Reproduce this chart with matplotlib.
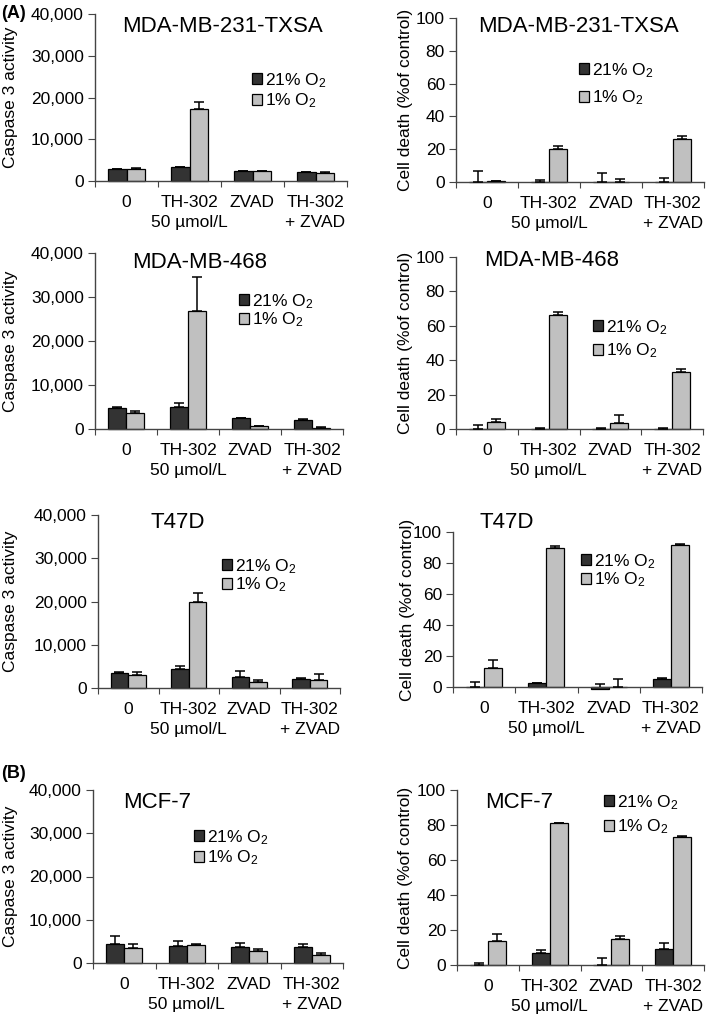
import numpy as np
import matplotlib
matplotlib.use("Agg")
import matplotlib.pyplot as plt
from matplotlib.patches import Patch

plt.rcParams['font.family'] = ['Liberation Sans', 'DejaVu Sans']
plt.rcParams['mathtext.fontset'] = 'custom'
plt.rcParams['mathtext.rm'] = 'Liberation Sans'
plt.rcParams['mathtext.it'] = 'Liberation Sans:italic'

# ---- data ----
categories = ["0", "TH-302\n50 \u00b5mol/L", "ZVAD", "TH-302\n+ ZVAD"]
cell_lines = ["MDA-MB-231-TXSA", "MDA-MB-468", "T47D", "MCF-7"]
series_labels = ["21% O$_\\mathregular{2}$", "1% O$_\\mathregular{2}$"]

casp_ticks = [0, 10000, 20000, 30000, 40000]
death_ticks = [0, 20, 40, 60, 80, 100]

# caspase 3 activity: mean and upper error (21% O2 / 1% O2)
casp_231_norm = [2800, 3300, 2400, 2100]
casp_231_norm_err = [100, 100, 100, 100]
casp_231_hyp = [2900, 17200, 2400, 2000]
casp_231_hyp_err = [100, 1800, 100, 100]

casp_468_norm = [4700, 5100, 2500, 2100]
casp_468_norm_err = [300, 700, 100, 100]
casp_468_hyp = [3700, 26800, 600, 300]
casp_468_hyp_err = [500, 7800, 100, 100]

casp_t47d_norm = [3400, 4300, 2600, 2000]
casp_t47d_norm_err = [200, 800, 1300, 300]
casp_t47d_hyp = [3000, 19800, 1300, 1900]
casp_t47d_hyp_err = [700, 2200, 600, 1300]

casp_mcf7_norm = [4500, 3900, 3700, 3700]
casp_mcf7_norm_err = [1700, 1300, 1000, 700]
casp_mcf7_hyp = [3400, 4200, 2800, 1900]
casp_mcf7_hyp_err = [900, 300, 400, 300]

# cell death (% of control): mean and upper error
death_231_norm = [0, 0, 0, 0]
death_231_norm_err = [7, 1.2, 5.5, 2.5]
death_231_hyp = [0.5, 20, 0, 26]
death_231_hyp_err = [0.4, 1.7, 1.8, 2.2]

death_468_norm = [0, 0, 0, 0]
death_468_norm_err = [2.2, 0.3, 0.6, 0.5]
death_468_hyp = [4, 66, 3.5, 33]
death_468_hyp_err = [2, 1.8, 4.6, 1.6]

death_t47d_norm = [0, 2.5, -1.5, 5]
death_t47d_norm_err = [3.5, 0.4, 3.5, 0.6]
death_t47d_hyp = [12, 89.5, 0, 91.5]
death_t47d_hyp_err = [5.5, 1.3, 5, 0.5]

death_mcf7_norm = [0, 7, 0, 9]
death_mcf7_norm_err = [1, 1.6, 4, 3.4]
death_mcf7_hyp = [14, 81, 15, 73]
death_mcf7_hyp_err = [3.5, 0.3, 1.5, 0.6]

# ---- layout (pixel coords in a 709x1015 image) ----
W, H = 709, 1015
fig = plt.figure(figsize=(W / 100, H / 100), dpi=100)

dark = "#333333"
light = "#c0c0c0"
fs = 12.5


def px_axes(l, t, r, b):
    return fig.add_axes([l / W, 1 - b / H, (r - l) / W, (b - t) / H])


def draw_panel(rect, norm, norm_err, hyp, hyp_err, ymax, ticks, ylabel,
               title, title_xy, label_x, leg_xy, leg_gap, tick_fmt):
    ax = px_axes(*rect)
    x = np.arange(len(categories))
    bw = 0.29
    ax.bar(x - bw / 2, norm, bw, color=dark, edgecolor="black", lw=0.9,
           clip_on=False, zorder=2)
    ax.bar(x + bw / 2, hyp, bw, color=light, edgecolor="black", lw=0.9,
           clip_on=False, zorder=2)
    zeros = np.zeros(len(x))
    ax.errorbar(x - bw / 2, norm, yerr=[zeros, norm_err], fmt="none",
                ecolor="black", elinewidth=1.1, capsize=3.5, capthick=1.1,
                zorder=3)
    ax.errorbar(x + bw / 2, hyp, yerr=[zeros, hyp_err], fmt="none",
                ecolor="black", elinewidth=1.1, capsize=3.5, capthick=1.1,
                zorder=3)
    ax.set_xlim(-0.5, len(x) - 0.5)
    ax.set_ylim(0, ymax)
    for s in ["top", "right"]:
        ax.spines[s].set_visible(False)
    for s in ["left", "bottom"]:
        ax.spines[s].set_color("#444444")
        ax.spines[s].set_linewidth(1.0)
    # boundary ticks (major) and labelled centre ticks (minor)
    ax.set_xticks(np.arange(len(x) + 1) - 0.5)
    ax.set_xticklabels([])
    ax.set_xticks(x, minor=True)
    ax.set_xticklabels(categories, minor=True, fontsize=fs, linespacing=1.45)
    ax.tick_params(axis="x", which="major", length=4, color="#444444")
    ax.tick_params(axis="x", which="minor", length=0, pad=10)
    ax.set_yticks(ticks)
    ax.set_yticklabels([tick_fmt(t) for t in ticks], fontsize=fs)
    ax.tick_params(axis="y", length=5, pad=3, color="#444444")
    ax.set_ylabel(ylabel, fontsize=fs)
    ax.yaxis.set_label_coords((label_x + 9 - rect[0]) / (rect[2] - rect[0]),
                              0.5)
    fig.text(title_xy[0] / W, 1 - title_xy[1] / H, title, fontsize=16,
             ha="center", va="center")
    handles = [Patch(facecolor=dark, edgecolor="black", lw=0.9),
               Patch(facecolor=light, edgecolor="black", lw=0.9)]
    ax.legend(handles, series_labels, loc="upper left",
              bbox_to_anchor=(leg_xy[0] / W, 1 - leg_xy[1] / H),
              bbox_transform=fig.transFigure, frameon=False, fontsize=fs,
              borderpad=0, borderaxespad=0, handlelength=0.6,
              handleheight=0.6, handletextpad=0.15,
              labelspacing=max(leg_gap - 18, 0) / 17.4)
    return ax


casp_fmt = lambda v: "{:,}".format(v)
death_fmt = lambda v: str(v)

casp_label = "Caspase 3 activity"
death_label = "Cell death (%of control)"

# row 1: MDA-MB-231-TXSA
draw_panel((95, 14, 347, 181), casp_231_norm, casp_231_norm_err,
           casp_231_hyp, casp_231_hyp_err, 40000, casp_ticks, casp_label,
           cell_lines[0], (222, 27), 9, (252, 71), 20, casp_fmt)
draw_panel((456, 18, 704, 182), death_231_norm, death_231_norm_err,
           death_231_hyp, death_231_hyp_err, 100, death_ticks, death_label,
           cell_lines[0], (579, 27), 404, (579, 61), 27, death_fmt)
# row 2: MDA-MB-468
draw_panel((95, 253, 343, 429), casp_468_norm, casp_468_norm_err,
           casp_468_hyp, casp_468_hyp_err, 40000, casp_ticks, casp_label,
           cell_lines[1], (200, 263), 9, (239, 292), 17, casp_fmt)
draw_panel((456, 257, 703, 429), death_468_norm, death_468_norm_err,
           death_468_hyp, death_468_hyp_err, 100, death_ticks, death_label,
           cell_lines[1], (552, 260), 404, (593, 318), 23, death_fmt)
# row 3: T47D
draw_panel((98, 515, 340, 688), casp_t47d_norm, casp_t47d_norm_err,
           casp_t47d_hyp, casp_t47d_hyp_err, 40000, casp_ticks, casp_label,
           cell_lines[2], (178, 523), 9, (222, 557), 16, casp_fmt)
draw_panel((453, 532, 702, 687), death_t47d_norm, death_t47d_norm_err,
           death_t47d_hyp, death_t47d_hyp_err, 100, death_ticks, death_label,
           cell_lines[2], (507, 522), 406, (581, 552), 18, death_fmt)
# row 4: MCF-7
draw_panel((93, 790, 343, 963), casp_mcf7_norm, casp_mcf7_norm_err,
           casp_mcf7_hyp, casp_mcf7_hyp_err, 40000, casp_ticks, casp_label,
           cell_lines[3], (157, 802), 9, (194, 828), 20, casp_fmt)
draw_panel((457, 790, 704, 965), death_mcf7_norm, death_mcf7_norm_err,
           death_mcf7_hyp, death_mcf7_hyp_err, 100, death_ticks, death_label,
           cell_lines[3], (519, 802), 404, (604, 793), 24, death_fmt)

fig.text(1 / W, 1 - 14 / H, "(A)", fontsize=13, fontweight="bold",
         ha="left", va="center")
fig.text(1 / W, 1 - 773 / H, "(B)", fontsize=13, fontweight="bold",
         ha="left", va="center")

fig.savefig("out.png", dpi=100)
